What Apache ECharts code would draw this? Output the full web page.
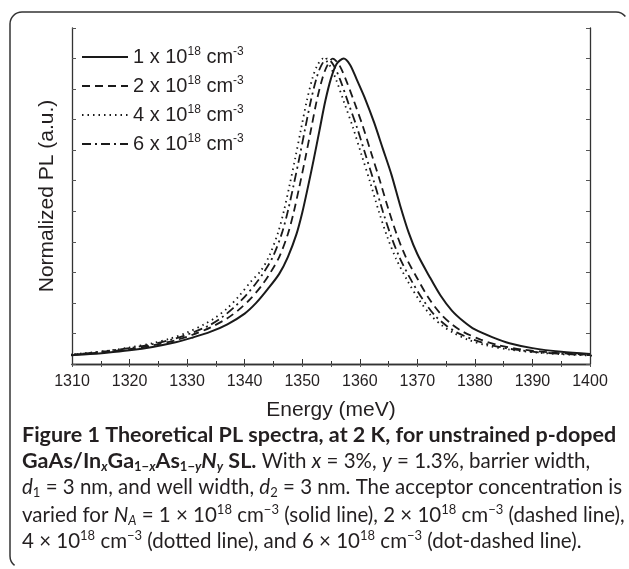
<!DOCTYPE html>
<html>
<head>
<meta charset="utf-8">
<script src="https://cdn.jsdelivr.net/npm/echarts@6/dist/echarts.min.js"></script>
<style>
html,body{margin:0;padding:0;background:#fff;}
#chart{width:629px;height:569px;}
</style>
</head>
<body>
<div id="chart"></div>
<script>
// PL spectra (energy in meV, normalized PL)
const e1 = [1308.5,1312,1316,1320,1324,1328,1331,1334,1337,1340,1342,1344,1346,1347.5,1349,1350,1351,1352,1353,1354,1355,1356,1357.2,1358.3,1359.5,1361,1362.5,1364,1365.5,1367,1368.5,1370,1372,1374,1376,1378,1380,1383,1386,1390,1395,1400];
const pl1 = [0.027,0.031,0.037,0.045,0.056,0.071,0.087,0.105,0.130,0.165,0.200,0.245,0.295,0.350,0.425,0.495,0.580,0.670,0.765,0.860,0.935,0.983,1.0,0.98,0.93,0.865,0.79,0.705,0.62,0.52,0.43,0.36,0.29,0.225,0.175,0.140,0.113,0.088,0.068,0.052,0.040,0.033];

const e2 = [1308.5,1312,1316,1320,1324,1328,1331,1334,1337,1339,1341,1343,1344.5,1346,1347.5,1348.5,1349.5,1350.5,1351.5,1352.5,1353.5,1354.3,1355.3,1356.4,1357.6,1359,1360.5,1362,1363.5,1365,1366.5,1368,1370,1372,1374,1376,1378,1381,1384,1388,1393,1400];
const pl2 = [0.028,0.033,0.040,0.049,0.061,0.078,0.096,0.119,0.150,0.178,0.213,0.258,0.300,0.350,0.425,0.495,0.58,0.67,0.765,0.86,0.935,0.975,1.0,0.98,0.93,0.86,0.78,0.69,0.60,0.505,0.42,0.35,0.28,0.215,0.165,0.130,0.105,0.080,0.062,0.048,0.038,0.030];

const e4 = [1308.5,1312,1316,1320,1324,1327,1330,1333,1335,1337,1339,1341,1342.8,1344.3,1345.8,1346.8,1347.8,1348.8,1349.8,1350.8,1351.8,1352.6,1353.6,1354.7,1355.9,1357.3,1358.8,1360.3,1361.8,1363.3,1364.8,1366.3,1368.3,1370.3,1372.3,1374.3,1376.3,1379,1382,1386,1391,1397,1401];
const pl4 = [0.030,0.035,0.043,0.054,0.068,0.083,0.103,0.130,0.153,0.183,0.222,0.268,0.305,0.355,0.43,0.50,0.585,0.675,0.77,0.862,0.937,0.977,1.0,0.98,0.93,0.855,0.775,0.685,0.595,0.50,0.415,0.345,0.272,0.21,0.16,0.126,0.102,0.078,0.061,0.047,0.037,0.030,0.027];

const e6 = [1308.5,1312,1316,1320,1324,1328,1331,1334,1336,1338,1340,1342,1343.5,1345,1346.5,1347.5,1348.5,1349.5,1350.5,1351.5,1352.5,1353.3,1354.3,1355.4,1356.6,1358,1359.5,1361,1362.5,1364,1365.5,1367,1369,1371,1373,1375,1377,1380,1383,1387,1392,1400];
const pl6 = [0.029,0.034,0.042,0.052,0.065,0.084,0.103,0.128,0.152,0.183,0.22,0.265,0.305,0.355,0.43,0.50,0.585,0.675,0.77,0.862,0.937,0.977,1.0,0.98,0.93,0.855,0.775,0.685,0.595,0.50,0.415,0.345,0.272,0.21,0.16,0.126,0.102,0.078,0.061,0.047,0.037,0.029];

const names = ['1','2','4','6'];
const dashes = ['solid',[8,5],[1.5,4],[9,4,2,4]];

const pairs = (xs,ys)=>xs.map((x,i)=>[x,ys[i]]);
const curves = [pairs(e1,pl1),pairs(e2,pl2),pairs(e4,pl4),pairs(e6,pl6)];

const ink = '#231f20';
const axFont = 'Liberation Sans, Arial, sans-serif';
const capFont = 'Lato, sans-serif';

const chart = echarts.init(document.getElementById('chart'));

const B = 21.5, R = 20.5, S = 13;
const capRich = {
  b:{fontFamily:capFont,fontWeight:'bold',fontSize:B,color:ink,lineHeight:24},
  bs:{fontFamily:capFont,fontWeight:'bold',fontSize:S,color:ink,verticalAlign:'bottom',lineHeight:13},
  bsi:{fontFamily:capFont,fontWeight:'bold',fontStyle:'italic',fontSize:S,color:ink,verticalAlign:'bottom',lineHeight:13},
  bi:{fontFamily:capFont,fontWeight:'bold',fontStyle:'italic',fontSize:B,color:ink,lineHeight:24},
  r:{fontFamily:capFont,fontSize:R,color:ink,lineHeight:24},
  i:{fontFamily:capFont,fontStyle:'italic',fontSize:R,color:ink,lineHeight:24},
  rs:{fontFamily:capFont,fontSize:S,color:ink,verticalAlign:'bottom',lineHeight:13},
  is:{fontFamily:capFont,fontStyle:'italic',fontSize:S,color:ink,verticalAlign:'bottom',lineHeight:13},
  sup:{fontFamily:capFont,fontSize:S,color:ink,verticalAlign:'top',lineHeight:13}
};
const capLines = [
  '{b|Figure 1 Theoretical PL spectra, at 2 K, for unstrained p-doped}',
  '{b|GaAs/In}{bsi|x}{b|Ga}{bs|1−}{bsi|x}{b|As}{bs|1−}{bsi|y}{bi|N}{bsi|y}{b| SL.}{r| With }{i|x}{r| = 3%, }{i|y}{r| = 1.3%, barrier width,}',
  '{i|d}{rs|1}{r| = 3 nm, and well width, }{i|d}{rs|2}{r| = 3 nm. The acceptor concentration is}',
  '{r|varied for }{i|N}{is|A}{r| = 1 × 10}{sup|18}{r| cm}{sup|−3}{r| (solid line), 2 × 10}{sup|18}{r| cm}{sup|−3}{r| (dashed line),}',
  '{r|4 × 10}{sup|18}{r| cm}{sup|−3}{r| (dotted line), and 6 × 10}{sup|18}{r| cm}{sup|−3}{r| (dot-dashed line).}'
];
const capY = [436,462,489,515,541];

const frame = {fill:null,stroke:'#333',lineWidth:1.5};
const graphics = [
  {type:'arc',silent:true,shape:{cx:22,cy:24,r:12,startAngle:Math.PI,endAngle:Math.PI*1.5,clockwise:true},style:frame},
  {type:'line',silent:true,shape:{x1:22,y1:12,x2:616,y2:12},style:frame},
  {type:'arc',silent:true,shape:{cx:616,cy:24,r:12,startAngle:Math.PI*1.5,endAngle:Math.PI*1.5+0.9,clockwise:true},style:frame},
  {type:'line',silent:true,shape:{x1:10,y1:24,x2:10,y2:556},style:frame},
  {type:'arc',silent:true,shape:{cx:22,cy:556,r:12,startAngle:Math.PI,endAngle:Math.PI-0.9,clockwise:false},style:frame}
].concat(capLines.map((t,i)=>({
  type:'text',left:22,top:capY[i]-12,silent:true,
  style:{text:t,rich:capRich,fill:ink}
})));

chart.setOption({
  animation:false,
  backgroundColor:'#fff',
  grid:{left:72,right:39,top:28,bottom:205},
  legend:{
    orient:'vertical',left:81,top:46,padding:0,itemWidth:46,itemHeight:14,itemGap:8,
    data:names,
    itemStyle:{color:'rgba(0,0,0,0)',borderWidth:0,opacity:0},
    formatter:n=>'{n|'+n+' x 10}{s|18}{n| cm}{s|-3}',
    textStyle:{rich:{
      n:{fontFamily:axFont,fontSize:20,color:ink,lineHeight:22},
      s:{fontFamily:axFont,fontSize:12,color:ink,verticalAlign:'top',lineHeight:12}
    }}
  },
  xAxis:[{
    type:'value',min:1310,max:1400,interval:10,position:'bottom',
    name:'Energy (meV)',nameLocation:'middle',nameGap:36,
    nameTextStyle:{fontFamily:axFont,fontSize:21,color:ink},
    axisLine:{lineStyle:{color:'#333',width:1.3}},
    axisTick:{inside:true,length:5,lineStyle:{color:'#333'}},
    minorTick:{show:true,splitNumber:2,length:3,lineStyle:{color:'#333'}},
    axisLabel:{fontFamily:axFont,fontSize:16,color:ink,margin:10,formatter:v=>String(v)},
    splitLine:{show:false}
  },{
    type:'value',min:1310,max:1400,interval:5,position:'top',
    axisLine:{lineStyle:{color:'#333',width:1.3}},
    axisTick:{inside:true,length:3,lineStyle:{color:'#555'}},
    axisLabel:{show:false},splitLine:{show:false}
  }],
  yAxis:[{
    type:'value',min:0,max:1.1,interval:0.1,position:'left',
    name:'Normalized PL (a.u.)',nameLocation:'middle',nameGap:14,
    nameTextStyle:{fontFamily:axFont,fontSize:21,color:ink},
    axisLine:{show:true,lineStyle:{color:'#333',width:1.3}},
    axisTick:{show:true,inside:true,length:4,lineStyle:{color:'#555'}},
    axisLabel:{show:false},splitLine:{show:false}
  },{
    type:'value',min:0,max:1.1,interval:0.1,position:'right',
    axisLine:{show:true,lineStyle:{color:'#333',width:1.3}},
    axisTick:{show:true,inside:true,length:4,lineStyle:{color:'#555'}},
    axisLabel:{show:false},splitLine:{show:false}
  }],
  series:curves.map((d,i)=>({
    name:names[i],type:'line',data:d,xAxisIndex:0,yAxisIndex:0,
    symbol:'none',smooth:0.3,clip:false,
    lineStyle:{color:'#1a1a1a',width:i===0?2:1.8,type:dashes[i]},
    itemStyle:{color:'#1a1a1a'}
  })),
  graphic:graphics
});
</script>
</body>
</html>
